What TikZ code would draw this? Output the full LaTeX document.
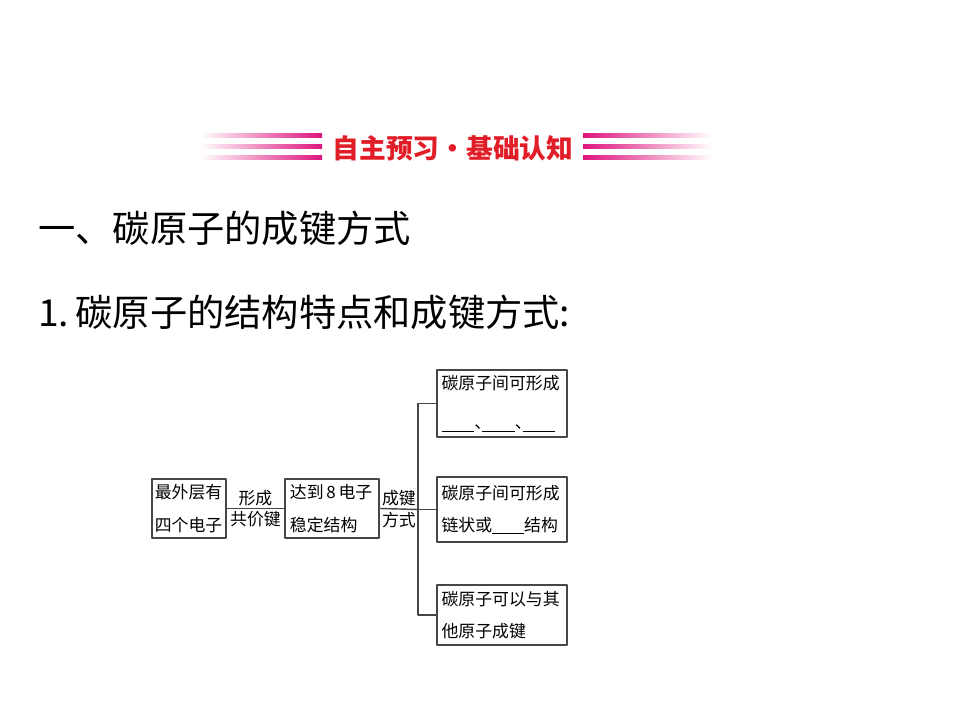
\documentclass[tikz,border=0pt]{standalone}
\usepackage{fontspec}
\setmainfont{Noto Sans CJK SC}
\usetikzlibrary{positioning}
\definecolor{bannerred}{RGB}{225,30,40}
\definecolor{bannerpink}{RGB}{222,20,125}
\definecolor{boxgray}{RGB}{70,70,70}
\newcommand{\blank}[1]{\underline{\hspace{#1}}}
\begin{document}
\begin{tikzpicture}[x=0.025cm,y=-0.025cm,line join=round]
    \tikzset{
        infobox/.style={draw=boxgray,line width=1.3pt,align=left,inner ysep=0pt,
            font=\fontsize{12}{23}\selectfont},
        linklabel/.style={font=\fontsize{12}{14}\selectfont,inner sep=1.5pt},
        branch/.style={draw=boxgray,line width=1pt}
    }
    \useasboundingbox (0,0) rectangle (960,720);
    % banner
    \foreach \y in {136,147,158}{
        \shade[left color=white,right color=bannerpink] (200,\y-2) rectangle (322,\y+2);
        \shade[left color=bannerpink,right color=white] (583,\y-2) rectangle (712,\y+2);
    }
    \node[font=\fontsize{19}{22}\selectfont\bfseries,text=bannerred,inner sep=0] (banner) at (453,148) {自主预习・基础认知};
    % headings
    \node[anchor=west,inner sep=0,font=\fontsize{26.5}{30}\selectfont] (heading) at (38,228) {一、碳原子的成键方式};
    \node[anchor=west,inner sep=0,font=\fontsize{26.5}{30}\selectfont] (subheading) at (38,312) {1.\,碳原子的结构特点和成键方式:};
    % chart
    \node[infobox,inner xsep=2pt,text width=48.6pt,minimum height=1.475cm] (outer) at (189,508.5)
        {最外层有\\四个电子};
    \node[infobox,inner xsep=3.5pt,text width=59.9pt,minimum height=1.475cm] (stable) at (332,508.5)
        {\mbox{达到\,8\,电子}\\稳定结构};
    \node[infobox,inner xsep=3pt,text width=86pt,minimum height=1.675cm] (chain) at (502,403.5)
        {碳原子间可形成\\[5pt]\blank{1.95em}\makebox[0.45em][l]{、}\blank{1.95em}\makebox[0.45em][l]{、}\blank{1.95em}};
    \node[infobox,inner xsep=3pt,text width=86pt,minimum height=1.625cm] (ring) at (502,509.5)
        {碳原子间可形成\\链状或\blank{1.9em}结构};
    \node[infobox,inner xsep=3pt,text width=86pt,minimum height=1.5cm] (other) at (502,615)
        {碳原子可以与其\\他原子成键};
    \coordinate (join) at (418,509.5);
    \draw[branch] (outer.east) -- (stable.west)
        node[linklabel,midway,above] {形成}
        node[linklabel,midway,below] {共价键};
    \draw[branch] (stable.east) -- (join)
        node[linklabel,midway,above] {成键}
        node[linklabel,midway,below] {方式};
    \draw[branch] (chain.west) -- (join |- chain.west) -- (join |- other.west) -- (other.west);
    \draw[branch] (join) -- (ring.west);
\end{tikzpicture}
\end{document}
